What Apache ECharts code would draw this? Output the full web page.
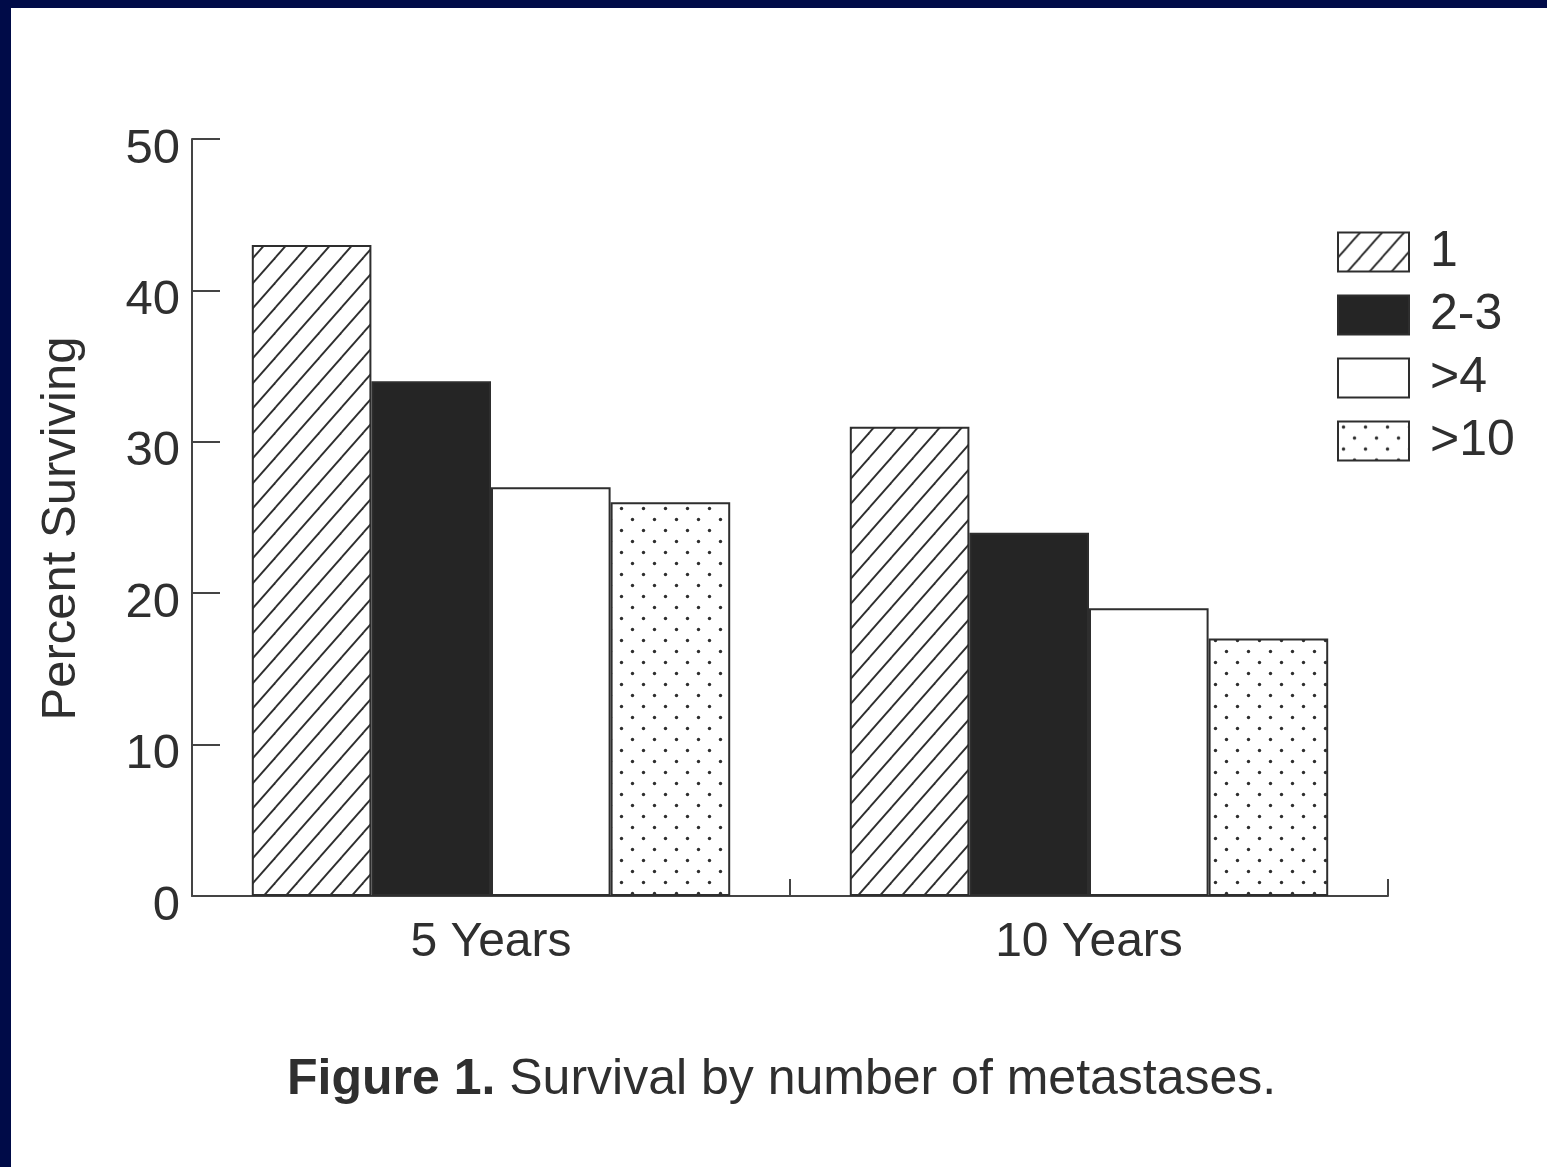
<!DOCTYPE html>
<html><head><meta charset="utf-8">
<script src="https://cdn.jsdelivr.net/npm/echarts@6/dist/echarts.min.js"></script>
<style>
html,body{margin:0;padding:0;background:#000b48;width:1547px;height:1167px;overflow:hidden}
#chart{position:absolute;left:11px;top:8px;width:1536px;height:1159px;background:#fff}
</style></head><body><div id="chart"></div>
<script>
// ---- data ----
const categories = ['5 Years', '10 Years'];
const seriesNames = ['1', '2-3', '>4', '>10'];
const values1 = [43, 31];
const values23 = [34, 24];
const values4 = [27, 19];
const values10 = [26, 17];
const yTicks = [0, 10, 20, 30, 40, 50];
const yTitle = 'Percent Surviving';
const caption = 'Survival by number of metastases.';
const captionLead = 'Figure 1.';

// ---- patterns ----
const INK = '#2e2e2e';
function hatchPattern() {
  const w = 22, h = 25;
  const c = document.createElement('canvas');
  c.width = w; c.height = h;
  const g = c.getContext('2d');
  g.fillStyle = '#fff'; g.fillRect(0, 0, w, h);
  g.strokeStyle = INK; g.lineWidth = 1.9;
  [-w, 0, w].forEach(function (dx) {
    g.beginPath();
    g.moveTo(dx - w, 2 * h); g.lineTo(dx + 2 * w, -h);
    g.stroke();
  });
  return { image: c, repeat: 'repeat' };
}
function dotPattern() {
  const w = 22, h = 22;
  const c = document.createElement('canvas');
  c.width = w; c.height = h;
  const g = c.getContext('2d');
  g.fillStyle = '#fff'; g.fillRect(0, 0, w, h);
  g.fillStyle = INK;
  [[5.5, 5.5], [16.5, 16.5]].forEach(function (p) {
    g.beginPath(); g.arc(p[0], p[1], 1.7, 0, Math.PI * 2); g.fill();
  });
  return { image: c, repeat: 'repeat' };
}

const FONT = '"Liberation Sans", Arial, Helvetica, sans-serif';
const TXT = '#2f2f2f';
const fills = [hatchPattern(), '#252525', '#ffffff', dotPattern()];
const seriesData = [values1, values23, values4, values10];

const chart = echarts.init(document.getElementById('chart'), null, { renderer: 'canvas' });
chart.setOption({
  backgroundColor: '#ffffff',
  animation: false,
  title: {
    text: '{b|' + captionLead + '} ' + caption,
    left: 276, top: 1047, padding: 0,
    textStyle: {
      fontFamily: FONT, fontSize: 50, fontWeight: 'normal', color: TXT, lineHeight: 50,
      rich: { b: { fontFamily: FONT, fontSize: 50, fontWeight: 'bold', color: TXT, lineHeight: 50 } }
    }
  },
  legend: {
    orient: 'vertical', left: 1326, top: 219, padding: 0,
    icon: 'rect', itemWidth: 71, itemHeight: 39, itemGap: 13,
    data: seriesNames,
    itemStyle: { borderColor: INK, borderWidth: 2 },
    textStyle: { fontFamily: FONT, fontSize: 50, color: TXT, lineHeight: 39, padding: [0, 0, 0, 16] }
  },
  grid: { left: 181, right: 159, top: 131, bottom: 271, containLabel: false },
  xAxis: {
    type: 'category', data: categories,
    axisLine: { show: true, lineStyle: { color: '#444', width: 2 } },
    axisTick: { show: true, inside: true, length: 17, lineStyle: { color: '#444', width: 2 } },
    axisLabel: { fontFamily: FONT, fontSize: 48, color: TXT, margin: 23, lineHeight: 48 },
    splitLine: { show: false }
  },
  yAxis: {
    type: 'value', min: yTicks[0], max: yTicks[yTicks.length - 1], interval: yTicks[1] - yTicks[0],
    name: yTitle, nameLocation: 'middle', nameGap: 106,
    nameTextStyle: { fontFamily: FONT, fontSize: 49, color: TXT, padding: [0, 22, 0, 0] },
    axisLine: { show: true, lineStyle: { color: '#444', width: 2 } },
    axisTick: { show: true, inside: true, length: 28, lineStyle: { color: '#444', width: 2 } },
    axisLabel: {
      fontFamily: FONT, fontSize: 49, color: TXT, margin: 12,
      formatter: '{v|{value}}',
      rich: { v: { fontFamily: FONT, fontSize: 49, color: TXT, padding: [20, 0, 0, 0] } }
    },
    splitLine: { show: false }
  },
  series: seriesNames.map(function (n, i) {
    return {
      name: n, type: 'bar', data: seriesData[i],
      barWidth: '20%', barGap: '0%', barCategoryGap: '20%',
      itemStyle: { color: fills[i], borderColor: INK, borderWidth: 2 },
      emphasis: { disabled: true }
    };
  })
});
</script></body></html>
